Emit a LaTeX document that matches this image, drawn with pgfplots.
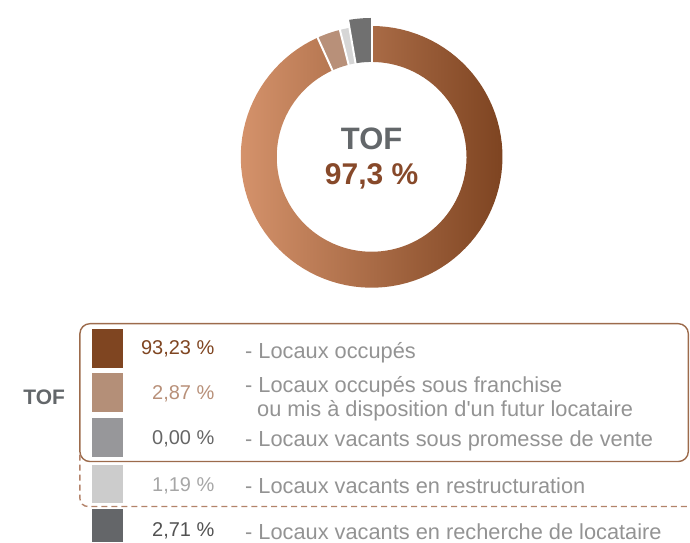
\documentclass[border=0pt]{standalone}
\usepackage{pgfplots}
\pgfplotsset{compat=1.18}
\usepackage{fontspec}
\setmainfont{Liberation Sans}
\definecolor{brownD}{HTML}{7E4421}
\definecolor{brownL}{HTML}{D4926B}
\definecolor{tanS}{HTML}{B89079}
\definecolor{lgS}{HTML}{D6D6D6}
\definecolor{dgS}{HTML}{707070}
\definecolor{sqA}{HTML}{7F4521}
\definecolor{sqB}{HTML}{B48F78}
\definecolor{sqC}{HTML}{97979A}
\definecolor{sqD}{HTML}{CCCCCC}
\definecolor{sqE}{HTML}{646669}
\definecolor{tofgray}{HTML}{63676A}
\definecolor{tofbrown}{HTML}{87492A}
\definecolor{desc}{HTML}{939393}
\definecolor{boxc}{HTML}{9C6B4C}
\definecolor{dashc}{HTML}{B3836A}

% values (percent)
\def\vA{93.23}\def\vB{2.87}\def\vC{0.00}\def\vD{1.19}\def\vE{2.71}
\pgfmathsetmacro{\aA}{90}
\pgfmathsetmacro{\aB}{\aA-3.6*\vA}
\pgfmathsetmacro{\aC}{\aB-3.6*\vB}
\pgfmathsetmacro{\aD}{\aC-3.6*\vC}
\pgfmathsetmacro{\aE}{\aD-3.6*\vD}
\pgfmathsetmacro{\aF}{\aE-3.6*\vE}

% ring segment: #1 start angle, #2 end angle, #3 outer radius, #4 options
\newcommand{\seg}[4]{%
\addplot[#4, domain=0:201, samples=202, variable=\t]
 ({372+((\t<100.5)?#3:95)*cos((\t<100.5)?(#1+(#2-#1)*\t/100):(#2-(#2-#1)*(\t-101)/100))},
  {157-((\t<100.5)?#3:95)*sin((\t<100.5)?(#1+(#2-#1)*\t/100):(#2-(#2-#1)*(\t-101)/100))});
}
\newcommand{\sep}[1]{%
\addplot[draw=white, line width=1pt, domain=93:141, samples=2, variable=\t]
 ({372+\t*cos(#1)},{157-\t*sin(#1)});
}
\newcommand{\dfont}{\fontsize{10.9}{13}\selectfont}

\begin{document}
\begin{tikzpicture}
\begin{axis}[width=345pt,height=271.5pt,scale only axis,
  xmin=0,xmax=690,ymin=0,ymax=543,y dir=reverse,hide axis,clip=false]
\path (axis cs:0,0) rectangle (axis cs:690,543);

\seg{\aA}{\aB}{131}{draw=none, left color=brownL, right color=brownD}
\seg{\aB}{\aC}{131}{draw=none, fill=tanS}
\seg{\aD}{\aE}{131}{draw=none, fill=lgS}
\seg{\aE}{\aF}{139}{draw=none, fill=dgS}
\sep{\aA}\sep{\aB}\sep{\aC}\sep{\aE}

\node[anchor=base, inner sep=0, font=\bfseries\fontsize{15.5}{18}\selectfont, text=tofgray] at (axis cs:372,150) {TOF};
\node[anchor=base, inner sep=0, font=\bfseries\fontsize{15}{18}\selectfont, text=tofbrown] at (axis cs:372,185) {97,3 \%};

% boxes
\draw[boxc, line width=0.7pt, rounded corners=5pt] (axis cs:80,324) rectangle (axis cs:689,462);
\draw[dashc, line width=0.7pt, dash pattern=on 3pt off 2pt, rounded corners=4pt] (axis cs:80,455) -- (axis cs:80,507) -- (axis cs:690,507);

% legend squares
\fill[sqA] (axis cs:92,329) rectangle (axis cs:123,368);
\fill[sqB] (axis cs:92,373) rectangle (axis cs:123,412);
\fill[sqC] (axis cs:92,418) rectangle (axis cs:123,457);
\fill[sqD] (axis cs:92,465) rectangle (axis cs:123,503);
\fill[sqE] (axis cs:92,510) rectangle (axis cs:123,543);

\node[anchor=base west, inner sep=0, font=\bfseries\fontsize{10.5}{12}\selectfont, text=tofgray] at (axis cs:23,405) {TOF};

\node[anchor=base east, inner sep=0, font=\fontsize{10}{12}\selectfont, text=sqA] at (axis cs:215,355) {93,23 \%};
\node[anchor=base east, inner sep=0, font=\fontsize{10}{12}\selectfont, text=tanS] at (axis cs:215,400) {2,87 \%};
\node[anchor=base east, inner sep=0, font=\fontsize{10}{12}\selectfont, text=black!60] at (axis cs:215,445) {0,00 \%};
\node[anchor=base east, inner sep=0, font=\fontsize{10}{12}\selectfont, text=black!35] at (axis cs:215,492) {1,19 \%};
\node[anchor=base east, inner sep=0, font=\fontsize{10}{12}\selectfont, text=black!68] at (axis cs:215,537) {2,71 \%};

\node[anchor=base west, inner sep=0, font=\dfont, text=desc] at (axis cs:245,359) {- Locaux occupés};
\node[anchor=base west, inner sep=0, font=\dfont, text=desc] at (axis cs:245,393) {- Locaux occupés sous franchise};
\node[anchor=base west, inner sep=0, font=\dfont, text=desc] at (axis cs:257,417) {ou mis à disposition d\textquotesingle un futur locataire};
\node[anchor=base west, inner sep=0, font=\dfont, text=desc] at (axis cs:245,447) {- Locaux vacants sous promesse de vente};
\node[anchor=base west, inner sep=0, font=\dfont, text=desc] at (axis cs:245,494) {- Locaux vacants en restructuration};
\node[anchor=base west, inner sep=0, font=\dfont, text=desc] at (axis cs:245,540) {- Locaux vacants en recherche de locataire};
\end{axis}
\end{tikzpicture}
\end{document}
